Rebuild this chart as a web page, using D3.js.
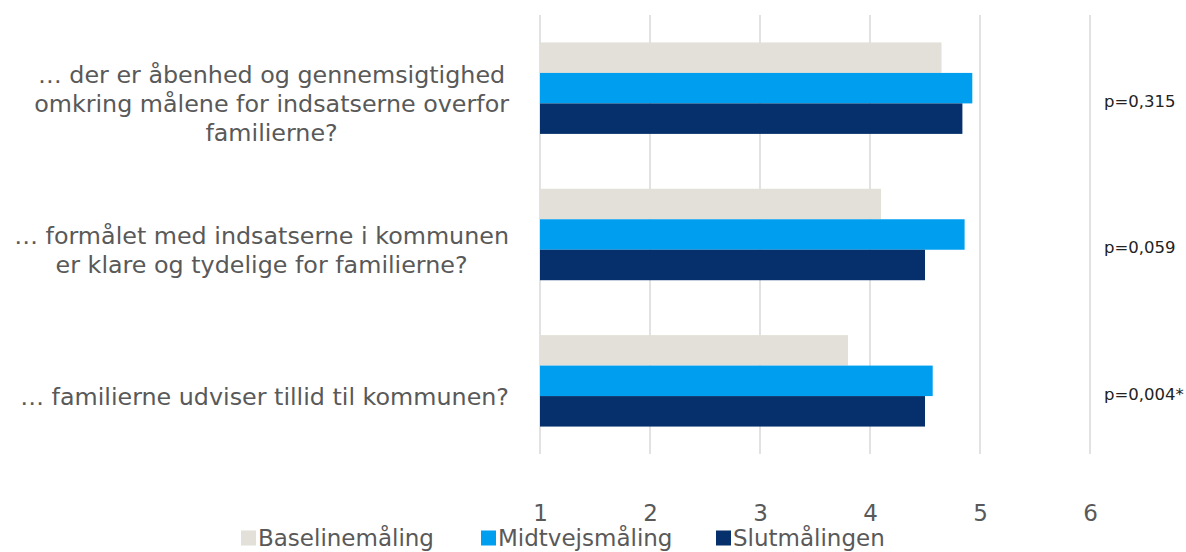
<!DOCTYPE html>
<html>
<head>
<meta charset="utf-8">
<script src="https://cdn.jsdelivr.net/npm/d3@7"></script>
<style>
  html, body { margin: 0; padding: 0; background: #fff; }
  svg { display: block; }
</style>
</head>
<body>
<svg id="chart" width="1186" height="552"></svg>
<script>
// Survey questions (lines split where the label wraps)
const categories = [
  "… der er åbenhed og gennemsigtighed\nomkring målene for indsatserne overfor\nfamilierne?",
  "… formålet med indsatserne i kommunen\ner klare og tydelige for familierne?",
  "… familierne udviser tillid til kommunen?"
];
const seriesNames = ["Baselinemåling", "Midtvejsmåling", "Slutmålingen"];
const baseline = [4.65, 4.10, 3.80];
const midtvej  = [4.93, 4.86, 4.57];
const slut     = [4.84, 4.50, 4.50];
const pValues  = ["p=0,315", "p=0,059", "p=0,004*"];
const ticks    = [1, 2, 3, 4, 5, 6];
const colors   = ["#E2E0D8", "#009EEF", "#05306B"];

const values = [baseline, midtvej, slut];
const svg = d3.select("#chart");
const font = "DejaVu Sans, Verdana, sans-serif";

const x = d3.scaleLinear().domain([1, 6]).range([540, 1090]);
const y = d3.scaleBand().domain(d3.range(categories.length))
  .range([15, 454]).paddingInner(0.375).paddingOuter(0.1875);
const ySub = d3.scaleBand().domain(d3.range(seriesNames.length))
  .range([0, y.bandwidth()]);

// vertical gridlines
svg.append("g").selectAll("line").data(ticks).join("line")
  .attr("x1", d => x(d)).attr("x2", d => x(d))
  .attr("y1", 15).attr("y2", 454)
  .attr("stroke", "#D9D9D9").attr("stroke-width", 1.5);

// bars
const groups = svg.append("g").selectAll("g").data(categories).join("g")
  .attr("transform", (d, i) => `translate(0,${y(i)})`);
groups.selectAll("rect")
  .data((d, i) => values.map((s, k) => ({ k, v: s[i] })))
  .join("rect")
  .attr("x", x(1))
  .attr("y", d => ySub(d.k))
  .attr("width", d => x(d.v) - x(1))
  .attr("height", ySub.bandwidth())
  .attr("fill", d => colors[d.k]);

// x axis tick labels
const xAxis = d3.axisBottom(x).tickValues(ticks).tickFormat(d3.format("d"))
  .tickSize(0).tickPadding(0);
const gx = svg.append("g").attr("transform", "translate(0,500)").call(xAxis);
gx.select(".domain").remove();
gx.selectAll("text")
  .attr("font-family", font).attr("font-size", 23)
  .attr("fill", "#595959").attr("dy", "0.35em").attr("y", 13);

// category labels: lines centred within a right-aligned block
const rightEdge = 509, lineH = 29, labelSize = 23.8;
categories.forEach((c, i) => {
  const lines = c.split("\n");
  const g = svg.append("g");
  const texts = g.selectAll("text").data(lines).join("text")
    .attr("font-family", font).attr("font-size", labelSize)
    .attr("fill", "#595959").attr("text-anchor", "middle")
    .text(d => d);
  const maxW = d3.max(texts.nodes(), n => n.getComputedTextLength());
  const cy = y(i) + y.bandwidth() / 2 + 16;
  const top = cy - (lines.length - 1) * lineH / 2;
  texts.attr("x", rightEdge - maxW / 2)
    .attr("y", (d, j) => top + j * lineH)
    .attr("dy", "0.35em");
});

// significance annotations
svg.append("g").selectAll("text").data(pValues).join("text")
  .attr("x", 1104)
  .attr("y", (d, i) => y(i) + y.bandwidth() / 2 + 13)
  .attr("dy", "0.35em")
  .attr("font-family", font).attr("font-size", 16.5)
  .attr("fill", "#222")
  .text(d => d);

// legend
const legendX = [241, 481, 716];
const legend = svg.append("g").selectAll("g").data(seriesNames).join("g")
  .attr("transform", (d, i) => `translate(${legendX[i]},538)`);
legend.append("rect")
  .attr("x", 0).attr("y", -7.5).attr("width", 15).attr("height", 15)
  .attr("fill", (d, i) => colors[i]);
legend.append("text")
  .attr("x", 17).attr("y", 0).attr("dy", "0.35em")
  .attr("font-family", font).attr("font-size", 23)
  .attr("fill", "#595959")
  .text(d => d);
</script>
</body>
</html>
